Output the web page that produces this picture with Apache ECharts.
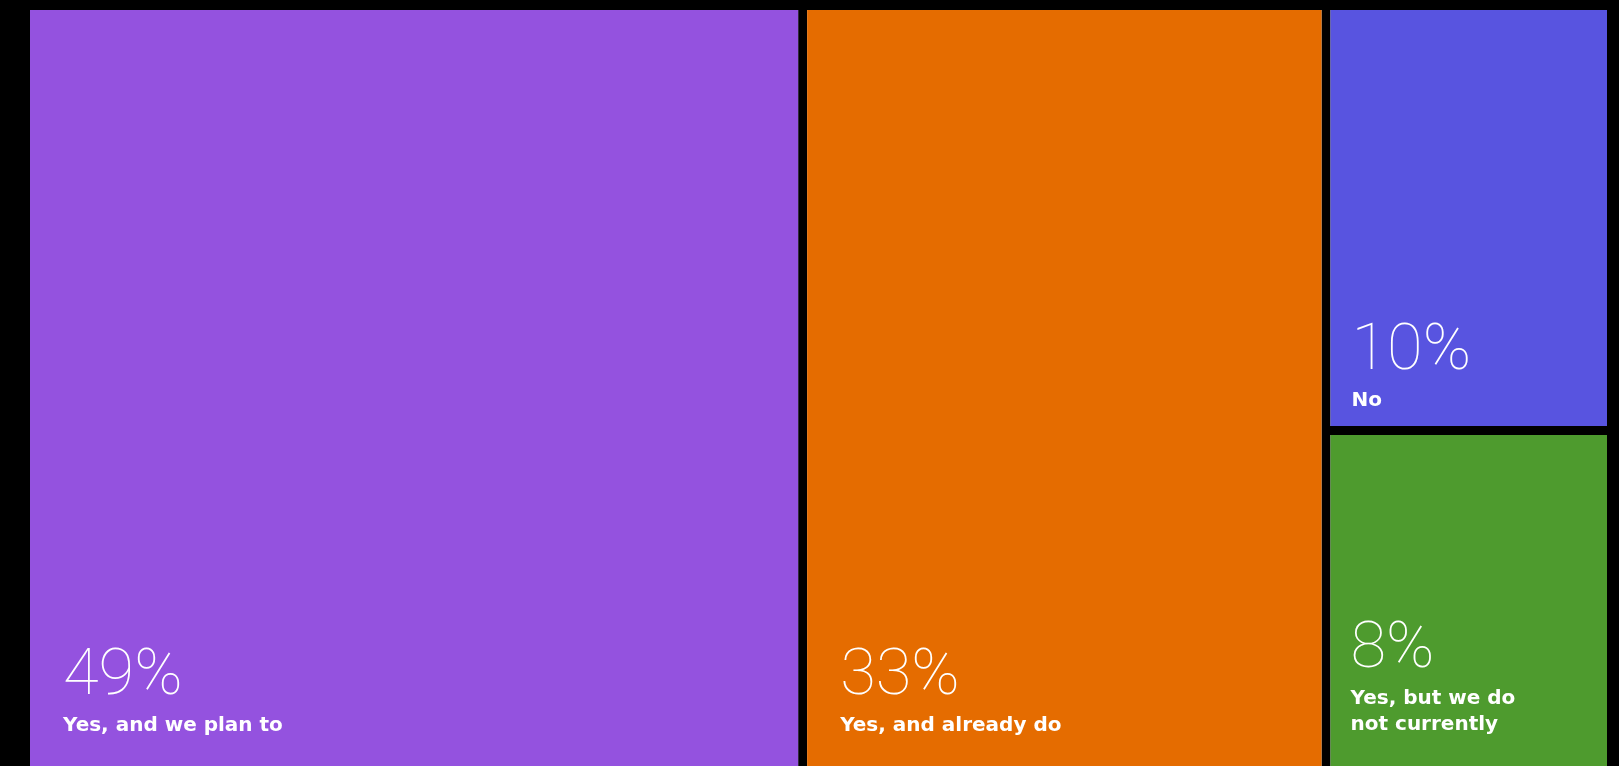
<!DOCTYPE html>
<html>
<head>
<meta charset="utf-8">
<style>
  html, body { margin: 0; padding: 0; background: #000; }
  #chart { width: 1619px; height: 766px; }
</style>
<script src="https://cdn.jsdelivr.net/npm/echarts@6/dist/echarts.min.js"></script>
</head>
<body>
<div id="chart"></div>
<script>
// Survey answers and their shares (percent)
const categories = ['Yes, and we plan to', 'Yes, and already do', 'No', 'Yes, but we do\nnot currently'];
const shares = [49, 33, 10, 8];
const colors = ['#9452df', '#e56c00', '#5854e0', '#4e9b2e'];

// Label block offsets from the tile's bottom-left corner: [bottom, left]
const labelInsets = [[27, 33], [27, 33], [12, 21], [27, 20]];

const BIG_LINE = 70;
const SUB_LINE = 26;

const chart = echarts.init(document.getElementById('chart'), null, { renderer: 'canvas' });

function buildData(tileHeights) {
  return categories.map((name, i) => {
    const textH = BIG_LINE + SUB_LINE * name.split('\n').length;
    const [bottom, left] = labelInsets[i];
    const h = tileHeights ? tileHeights[name] : textH + bottom;
    // treemap labels start at the top of the tile, so push them down to sit at the bottom
    const top = Math.max(Math.floor(h - textH - bottom), 0);
    return {
      name: name,
      value: shares[i],
      itemStyle: { color: colors[i], borderWidth: 0 },
      label: { padding: [top, 0, bottom, left] }
    };
  });
}

const option = {
  backgroundColor: '#000',
  animation: false,
  tooltip: { show: false },
  series: [{
    type: 'treemap',
    left: 30,
    top: 10,
    right: 12,
    bottom: 0,
    roam: false,
    nodeClick: false,
    breadcrumb: { show: false },
    emphasis: { disabled: true },
    levels: [
      { itemStyle: { gapWidth: 9, borderWidth: 0, borderColor: '#000' } }
    ],
    label: {
      show: true,
      position: 'insideTopLeft',
      align: 'left',
      overflow: 'none',
      formatter: p => '{big|' + p.value + '%}\n{sub|' + p.name + '}',
      rich: {
        big: {
          fontFamily: 'Roboto',
          fontWeight: 100,
          fontSize: 65,
          lineHeight: BIG_LINE,
          color: '#fff',
          align: 'left'
        },
        sub: {
          fontFamily: 'DejaVu Sans',
          fontWeight: 'bold',
          fontSize: 20,
          lineHeight: SUB_LINE,
          color: '#fff',
          align: 'left'
        }
      }
    },
    data: buildData(null)
  }]
};

chart.setOption(option);

// Read the tile sizes from the treemap layout, then place each label at its tile's bottom
const tree = chart.getModel().getSeriesByIndex(0).getData().tree;
const tileHeights = {};
tree.root.children.forEach(node => {
  tileHeights[node.name] = node.getLayout().height;
});
chart.setOption({ series: [{ data: buildData(tileHeights) }] });
</script>
</body>
</html>
